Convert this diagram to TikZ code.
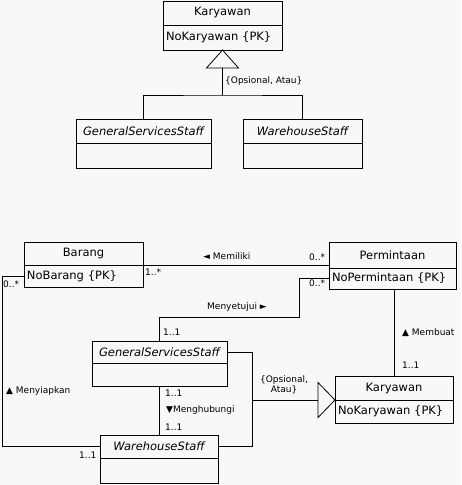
\documentclass[tikz,border=0pt]{standalone}
\usepackage{fontspec}
\setmainfont{DejaVu Sans}
\usetikzlibrary{calc}
\definecolor{bgc}{RGB}{248,248,248}
\newcommand\clsfont{\fontsize{11.5}{13}\selectfont}
\newcommand\lblfont{\fontsize{9}{10}\selectfont}
\tikzset{
  ln/.style={line width=0.8pt, draw=black},
  hdr/.style={ln, anchor=north west, inner sep=0pt, outer sep=0pt, font=\clsfont},
  bdy/.style={ln, anchor=north west, inner xsep=3pt, inner ysep=0pt, outer sep=0pt, align=left, font=\clsfont},
  lbl/.style={inner sep=0pt, font=\lblfont, anchor=west},
}
\begin{document}
\begin{tikzpicture}[x=1pt,y=-1pt]
\fill[bgc] (0,0) rectangle (461,485);
\useasboundingbox (0,0) rectangle (461,485);

% ---------- top ----------
\node[hdr, minimum width=119pt, minimum height=24pt] (kar1H) at (163,1) {Karyawan};
\node[bdy, text width=113pt, minimum height=25pt] (kar1B) at (kar1H.south west) {NoKaryawan \{PK\}};
\node[hdr, minimum width=135pt, minimum height=24pt] (gss1H) at (76,119) {\itshape GeneralServicesStaff};
\node[bdy, text width=129pt, minimum height=25pt] (gss1B) at (gss1H.south west) {};
\node[hdr, minimum width=119pt, minimum height=24pt] (ws1H) at (243,119) {\itshape WarehouseStaff};
\node[bdy, text width=113pt, minimum height=25pt] (ws1B) at (ws1H.south west) {};

\draw[ln, line join=miter] (kar1B.south) -- ++(-16,18) -- ++(32,0) -- cycle;
\coordinate (tri1) at ($(kar1B.south)+(0,18)$);
\draw[ln] (tri1) -- ++(0,27) coordinate (j1);
\draw[ln] (gss1H.north) |- (j1) -| (ws1H.north);
\node[lbl] (gen1) at (225,81) {\{Opsional, Atau\}};

% ---------- bottom ----------
\node[hdr, minimum width=119pt, minimum height=23pt] (barH) at (24,242) {Barang};
\node[bdy, text width=113pt, minimum height=22pt] (barB) at (barH.south west) {NoBarang \{PK\}};
\node[hdr, minimum width=127pt, minimum height=26pt] (perH) at (329,242) {Permintaan};
\node[bdy, text width=121pt, minimum height=21pt] (perB) at (perH.south west) {NoPermintaan \{PK\}};
\node[hdr, minimum width=135pt, minimum height=22pt] (gss2H) at (92,341) {\itshape GeneralServicesStaff};
\node[bdy, text width=129pt, minimum height=23pt] (gss2B) at (gss2H.south west) {};
\node[hdr, minimum width=118pt, minimum height=23pt] (ws2H) at (100,435) {\itshape WarehouseStaff};
\node[bdy, text width=112pt, minimum height=25pt] (ws2B) at (ws2H.south west) {};
\node[hdr, minimum width=118pt, minimum height=24pt] (kar2H) at (335,376) {Karyawan};
\node[bdy, text width=112pt, minimum height=23pt] (kar2B) at (kar2H.south west) {NoKaryawan \{PK\}};

% Memiliki
\draw[ln] (barH.south east) -- (barH.south east -| perH.west);
\node[lbl] (memiliki) at (203,256) {◄ Memiliki};
\node[lbl] (m1) at (309,257) {0..*};
\node[lbl] (m2) at (145,272) {1..*};

% Menyetujui
\draw[ln] (perB.west) -- ++(-30,0) -- ++(0,38.5) -| (gss2H.north);
\node[lbl] (menyetujui) at (207,307) {Menyetujui ►};
\node[lbl] (s1) at (309,283) {0..*};
\node[lbl] (s2) at (163,332) {1..1};

% Menyiapkan
\draw[ln] (barB.west) -- ++(-22,0) |- (ws2H.west);
\node[lbl] (menyiapkan) at (6,391) {▲ Menyiapkan};
\node[lbl] (p1) at (3,284) {0..*};
\node[lbl] (p2) at (79,455) {1..1};

% Membuat
\draw[ln] (kar2H.north |- perB.south) -- (kar2H.north);
\node[lbl] (membuat) at (402,333) {▲ Membuat};
\node[lbl] (b1) at (402,365) {1..1};

% Menghubungi
\draw[ln] (gss2B.south) -- (gss2B.south |- ws2H.north);
\node[lbl] (menghubungi) at (166,410) {▼Menghubungi};
\node[lbl] (h1) at (165,393) {1..1};
\node[lbl] (h2) at (165,427) {1..1};

% Generalization
\draw[ln, line join=miter] (kar2H.south west) -- ++(-17,-17.5) -- ++(0,35) -- cycle;
\coordinate (tri2) at ($(kar2H.south west)+(-17,0)$);
\draw[ln] (gss2H.east) -- ++(25,0) coordinate (g2a) |- (ws2H.east);
\draw[ln] (tri2) -- (tri2 -| g2a);
\node[font=\lblfont, align=center, inner sep=0pt] (gen2) at (284,385) {\{Opsional,\\Atau\}};
\end{tikzpicture}
\end{document}
